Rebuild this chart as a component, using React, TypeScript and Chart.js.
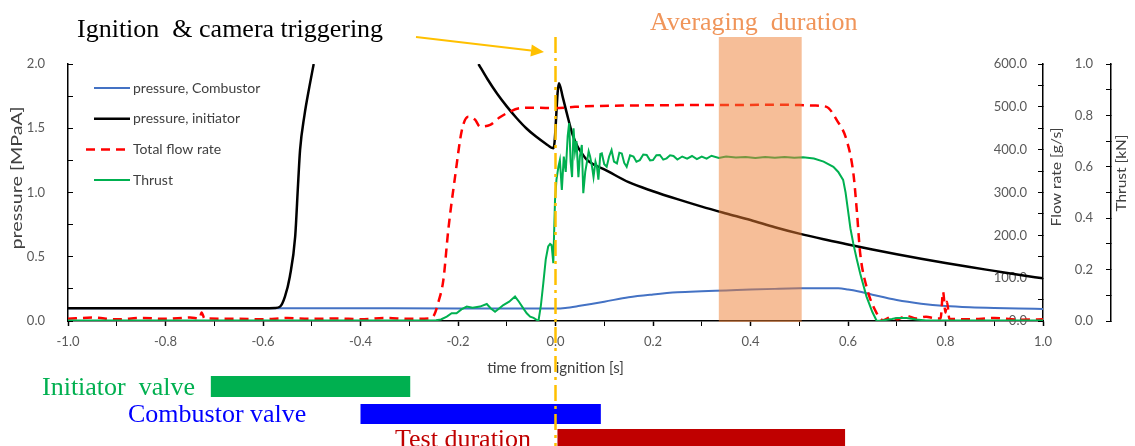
import React, { useEffect, useRef } from 'react';
import { Chart, registerables } from 'chart.js';

Chart.register(...registerables);

// ---------------- data ----------------
const seriesLabels = ['pressure, Combustor', 'pressure, initiator', 'Total flow rate', 'Thrust'];

const combustorTime = [-1.0, -0.8, -0.6, -0.4, -0.2, -0.1, 0.0, 0.02, 0.05, 0.1, 0.15, 0.2, 0.25, 0.3, 0.35, 0.4, 0.45, 0.5, 0.55, 0.58, 0.6, 0.62, 0.65, 0.7, 0.75, 0.8, 0.85, 0.9, 0.95, 1.0];
const combustorPressure = [0.100, 0.100, 0.100, 0.099, 0.098, 0.097, 0.097, 0.101, 0.118, 0.150, 0.185, 0.207, 0.224, 0.232, 0.238, 0.245, 0.250, 0.254, 0.255, 0.254, 0.245, 0.232, 0.205, 0.163, 0.135, 0.117, 0.107, 0.101, 0.097, 0.094];

const initiatorTime = [-1.0, -0.8, -0.6, -0.575, -0.565, -0.555, -0.545, -0.534, -0.528, -0.524, -0.515, -0.505, -0.496, -0.49,
  -0.158, -0.14, -0.12, -0.1, -0.08, -0.06, -0.04, -0.02, -0.004,
  0.007, 0.015, 0.023, 0.035, 0.045, 0.055, 0.064, 0.08, 0.1, 0.15, 0.2, 0.25, 0.3, 0.35, 0.4, 0.45, 0.5, 0.55, 0.6, 0.65, 0.7, 0.75, 0.8, 0.85, 0.9, 0.95, 1.0];
// null = off the top of the 0-2 MPa scale
const initiatorPressure = [0.100, 0.100, 0.100, 0.102, 0.112, 0.19, 0.345, 0.656, 1.07, 1.33, 1.6, 1.82, 2.0, null,
  2.0, 1.885, 1.77, 1.67, 1.58, 1.5, 1.435, 1.38, 1.344,
  1.85, 1.74, 1.62, 1.45, 1.36, 1.3, 1.255, 1.215, 1.18, 1.08, 1.01, 0.948, 0.89, 0.837, 0.786, 0.73, 0.68, 0.636, 0.596, 0.557, 0.52, 0.485, 0.452, 0.42, 0.39, 0.36, 0.332];

const flowTime = [-1.0, -0.95, -0.9, -0.85, -0.8, -0.75, -0.73, -0.726, -0.72, -0.65, -0.6, -0.55, -0.5, -0.45, -0.4, -0.35, -0.3, -0.26, -0.25, -0.24, -0.23, -0.22, -0.206, -0.192, -0.179, -0.165, -0.155, -0.134, -0.115, -0.1, -0.073, -0.04, 0.0, 0.04, 0.085, 0.15, 0.255, 0.35, 0.45, 0.5, 0.53, 0.556, 0.577, 0.597, 0.611, 0.618, 0.625, 0.638, 0.659, 0.672, 0.69, 0.70, 0.72, 0.74, 0.76, 0.78, 0.79, 0.795, 0.8, 0.803, 0.808, 0.85, 0.9, 0.95, 1.0];
const flowRate = [5, 8, 4, 7, 5, 8, 6, 20, 6, 5, 4, 7, 5, 6, 4, 7, 5, 6, 12, 45, 96, 212, 337, 446, 477, 470, 454, 458, 475, 485, 497, 498, 497, 500, 502, 503, 504, 504, 505, 504, 503, 500, 469, 423, 345, 259, 158, 80, 18, 2, 10, 4, 12, 6, 10, 6, 6, 68, 20, 45, 5, 4, 7, 3, 4];

const thrustTime = [-1.0, -0.6, -0.3, -0.245, -0.235, -0.223, -0.213, -0.203, -0.193, -0.182,
  -0.17, -0.155, -0.141, -0.133, -0.124, -0.115, -0.107, -0.095, -0.083, -0.075,
  -0.066, -0.059, -0.052, -0.045, -0.035, -0.03, -0.025, -0.02, -0.015, -0.011,
  -0.008, -0.0045, -0.001, 0.002, 0.006, 0.009, 0.013, 0.017, 0.021, 0.025,
  0.028, 0.031, 0.034, 0.037, 0.040, 0.043, 0.047, 0.050, 0.054, 0.057,
  0.061, 0.064, 0.068, 0.071, 0.075, 0.078, 0.082, 0.085, 0.088, 0.092,
  0.095, 0.1, 0.105, 0.11, 0.115, 0.12, 0.126, 0.131, 0.136, 0.141,
  0.146, 0.153, 0.16, 0.166, 0.173, 0.18, 0.187, 0.194, 0.2, 0.207,
  0.214, 0.221, 0.228, 0.235, 0.242, 0.25, 0.26, 0.27, 0.28, 0.29,
  0.3, 0.31, 0.32, 0.335, 0.35, 0.37, 0.39, 0.41, 0.43, 0.45,
  0.47, 0.49, 0.508, 0.53, 0.55, 0.57, 0.58, 0.59, 0.595, 0.6,
  0.605, 0.611, 0.618, 0.625, 0.638, 0.65, 0.659, 0.67, 0.69, 0.7,
  0.72, 0.74, 0.76, 0.85, 1.0];
const thrustValue = [0.002, 0.002, 0.002, 0.003, 0.006, 0.017, 0.03, 0.03, 0.045, 0.056,
  0.052, 0.056, 0.066, 0.05, 0.036, 0.05, 0.062, 0.075, 0.095, 0.075,
  0.049, 0.03, 0.017, 0.012, 0.0, 0.06, 0.147, 0.24, 0.29, 0.3,
  0.296, 0.225, 0.47, 0.55, 0.6, 0.626, 0.51, 0.64, 0.58, 0.72,
  0.77, 0.62, 0.56, 0.75, 0.66, 0.70, 0.56, 0.64, 0.685, 0.497,
  0.58, 0.613, 0.66, 0.64, 0.60, 0.56, 0.62, 0.60, 0.55, 0.65,
  0.652, 0.61, 0.60, 0.64, 0.665, 0.62, 0.613, 0.655, 0.652, 0.615,
  0.60, 0.645, 0.64, 0.62, 0.626, 0.648, 0.646, 0.625, 0.626, 0.645,
  0.646, 0.628, 0.633, 0.645, 0.642, 0.628, 0.64, 0.632, 0.642, 0.63,
  0.64, 0.632, 0.643, 0.634, 0.64, 0.636, 0.638, 0.634, 0.638, 0.635,
  0.638, 0.635, 0.637, 0.632, 0.62, 0.60, 0.58, 0.549, 0.5, 0.43,
  0.36, 0.30, 0.24, 0.185, 0.095, 0.035, 0.0, 0.002, 0.008, 0.012,
  0.012, 0.006, 0.002, 0.002, 0.002];

// annotations (in time units)
const ignitionTime = 0.0;
const averagingWindow = [0.335, 0.505];
const phaseLabels = ['Initiator  valve', 'Combustor valve', 'Test duration'];
const phaseStart = [-0.707, -0.40, 0.004];
const phaseEnd = [-0.298, 0.093, 0.594];

// ---------------- styles ----------------
const SANS = 'Lato, "Open Sans", sans-serif';
const SERIF = '"Liberation Serif", "Times New Roman", serif';
const seriesColors = ['#4472C4', '#000000', '#FF0000', '#00B050'];
const phaseColors = ['#00B050', '#0000FF', '#C00000'];
const phaseTextColors = ['#00B050', '#0000FF', '#C00000'];
const phaseRows = [
  { top: 376, height: 21, textX: 42, baseline: 395 },
  { top: 404, height: 20, textX: 128, baseline: 422 },
  { top: 429, height: 20, textX: 395, baseline: 447 },
];

const pts = (xs: number[], ys: (number | null)[]) => xs.map((x, i) => ({ x, y: ys[i] }));
const fmt1 = (v: number) => (Math.abs(v) < 1e-9 ? 0 : v).toFixed(1);

function drawVText(ctx: CanvasRenderingContext2D, text: string, cx: number, cy: number, len: number, size: number, color: string) {
  ctx.save();
  ctx.font = `${size}px ${SANS}`;
  const w = ctx.measureText(text).width;
  ctx.translate(cx, cy);
  ctx.rotate(-Math.PI / 2);
  ctx.scale(len / w, 1);
  ctx.fillStyle = color;
  ctx.textAlign = 'center';
  ctx.textBaseline = 'middle';
  ctx.fillText(text, 0, 0);
  ctx.restore();
}

const overlayPlugin = {
  id: 'overlay',
  afterDatasetsDraw(chart: any) {
    const { ctx, chartArea, scales } = chart;
    const x0 = scales.x.getPixelForValue(averagingWindow[0]);
    const x1 = scales.x.getPixelForValue(averagingWindow[1]);
    ctx.save();
    ctx.fillStyle = 'rgba(237,125,49,0.5)';
    ctx.fillRect(x0, 37, x1 - x0, chartArea.bottom + 1 - 37);
    ctx.restore();
  },
  afterDraw(chart: any) {
    const { ctx, scales } = chart;
    const xs = scales.x;

    // axis titles
    drawVText(ctx, 'pressure [MPaA]', 17, 178, 143, 15, '#404040');
    drawVText(ctx, 'Flow rate [g/s]', 1057, 177, 99, 13, '#404040');
    drawVText(ctx, 'Thrust [kN]', 1122, 173, 77, 13, '#404040');

    // legend
    ctx.save();
    chart.data.datasets.forEach((ds: any, i: number) => {
      const y = 88 + i * 30.7;
      ctx.beginPath();
      ctx.strokeStyle = ds.borderColor;
      ctx.lineWidth = ds.borderWidth;
      ctx.setLineDash(ds.borderDash || []);
      ctx.moveTo(ds.borderDash ? 86 : 94, y);
      ctx.lineTo(130, y);
      ctx.stroke();
      ctx.setLineDash([]);
      ctx.fillStyle = '#404040';
      ctx.font = `14px ${SANS}`;
      ctx.textAlign = 'left';
      ctx.textBaseline = 'middle';
      ctx.fillText(ds.label, 133, y);
    });
    ctx.restore();

    // top annotations
    ctx.save();
    ctx.font = `26px ${SERIF}`;
    ctx.textBaseline = 'alphabetic';
    ctx.textAlign = 'left';
    ctx.fillStyle = '#000000';
    ctx.fillText('Ignition  & camera triggering', 77, 37);
    ctx.fillStyle = '#F0955A';
    ctx.fillText('Averaging  duration', 650, 30);
    // arrow
    const ax0 = 416, ay0 = 37, ax1 = 544, ay1 = 52;
    const ang = Math.atan2(ay1 - ay0, ax1 - ax0);
    const hl = 13, hw = 6;
    const bx = ax1 - hl * Math.cos(ang), by = ay1 - hl * Math.sin(ang);
    ctx.strokeStyle = '#FFC000';
    ctx.fillStyle = '#FFC000';
    ctx.lineWidth = 2;
    ctx.beginPath();
    ctx.moveTo(ax0, ay0);
    ctx.lineTo(bx, by);
    ctx.stroke();
    ctx.beginPath();
    ctx.moveTo(ax1, ay1);
    ctx.lineTo(bx + hw * Math.sin(ang), by - hw * Math.cos(ang));
    ctx.lineTo(bx - hw * Math.sin(ang), by + hw * Math.cos(ang));
    ctx.closePath();
    ctx.fill();
    ctx.restore();

    // phase bars
    ctx.save();
    phaseLabels.forEach((lab, i) => {
      const r = phaseRows[i];
      const p0 = xs.getPixelForValue(phaseStart[i]);
      const p1 = xs.getPixelForValue(phaseEnd[i]);
      ctx.fillStyle = phaseColors[i];
      ctx.fillRect(p0, r.top, p1 - p0, r.height);
      ctx.fillStyle = phaseTextColors[i];
      ctx.font = `26px ${SERIF}`;
      ctx.textAlign = 'left';
      ctx.textBaseline = 'alphabetic';
      ctx.fillText(lab, r.textX, r.baseline);
    });
    ctx.restore();

    // ignition dash-dot line
    const ix = xs.getPixelForValue(ignitionTime);
    ctx.save();
    ctx.strokeStyle = '#FFC000';
    ctx.lineWidth = 2.5;
    ctx.setLineDash([16, 5, 3, 5]);
    ctx.beginPath();
    ctx.moveTo(ix, 37);
    ctx.lineTo(ix, 446);
    ctx.stroke();
    ctx.restore();
  },
};

const tickFont = { family: SANS, size: 13 };
const axisCommon = {
  border: { display: true, color: '#000000', width: 1.5 },
};

export default function App() {
  const ref = useRef<HTMLCanvasElement>(null);
  useEffect(() => {
    const datasets = [
      { label: seriesLabels[0], data: pts(combustorTime, combustorPressure), yAxisID: 'y', borderColor: seriesColors[0], borderWidth: 2, cubicInterpolationMode: 'monotone', order: 3 },
      { label: seriesLabels[1], data: pts(initiatorTime, initiatorPressure), yAxisID: 'y', borderColor: seriesColors[1], borderWidth: 2.5, cubicInterpolationMode: 'monotone', order: 2 },
      { label: seriesLabels[2], data: pts(flowTime, flowRate), yAxisID: 'flow', borderColor: seriesColors[2], borderWidth: 2.5, borderDash: [9, 6], cubicInterpolationMode: 'monotone', order: 1 },
      { label: seriesLabels[3], data: pts(thrustTime, thrustValue), yAxisID: 'thrust', borderColor: seriesColors[3], borderWidth: 2, tension: 0, order: 0 },
    ];
    const chart = new Chart(ref.current as HTMLCanvasElement, {
      type: 'line',
      data: { datasets } as any,
      options: {
        responsive: false,
        animation: false,
        spanGaps: false,
        elements: { point: { radius: 0 }, line: { fill: false } },
        layout: { padding: { left: 0, right: 0, top: 64, bottom: 65 } },
        plugins: { legend: { display: false }, tooltip: { enabled: false } },
        scales: {
          x: {
            type: 'linear', position: 'bottom', min: -1, max: 1,
            afterFit: (s: any) => { s.height = 60; },
            ticks: {
              stepSize: 0.1, autoSkip: false, maxRotation: 0, padding: 8, color: '#595959', font: tickFont,
              callback: (v: any) => (Math.round(v * 10) % 2 === 0 ? fmt1(v) : ''),
            },
            grid: { drawOnChartArea: false, tickLength: 5, color: '#000000', tickWidth: (c: any) => (Math.round(c.tick.value * 10) % 2 === 0 ? 1.5 : 1) },
            title: { display: true, text: 'time from ignition [s]', color: '#404040', font: { family: SANS, size: 15 }, padding: { top: 0, bottom: 4 } },
            ...axisCommon,
          },
          y: {
            type: 'linear', position: 'left', min: 0, max: 2,
            afterFit: (s: any) => { s.width = 68; },
            ticks: {
              stepSize: 0.25, autoSkip: false, padding: 28, color: '#595959', font: tickFont,
              callback: (v: any) => (Math.round(v * 4) % 2 === 0 ? fmt1(v) : ''),
            },
            grid: { drawOnChartArea: false, tickLength: -5, color: '#000000' },
            ...axisCommon,
          },
          flow: {
            type: 'linear', position: 'right', min: 0, max: 600,
            afterFit: (s: any) => { s.width = 68; },
            ticks: {
              stepSize: 50, autoSkip: false, mirror: true, padding: -16, color: '#595959', font: tickFont,
              callback: (v: any) => (Math.round(v) % 100 === 0 ? fmt1(v) : ''),
            },
            grid: { drawOnChartArea: false, tickLength: -5, color: '#000000' },
            ...axisCommon,
          },
          thrust: {
            type: 'linear', position: 'right', min: 0, max: 1,
            afterFit: (s: any) => { s.width = 24; },
            ticks: {
              stepSize: 0.1, autoSkip: false, mirror: true, padding: -18, color: '#595959', font: tickFont,
              callback: (v: any) => (Math.round(v * 10) % 2 === 0 ? fmt1(v) : ''),
            },
            grid: { drawOnChartArea: false, tickLength: -5, color: '#000000' },
            ...axisCommon,
          },
        },
      } as any,
      plugins: [overlayPlugin],
    });
    return () => chart.destroy();
  }, []);
  return (
    <div style={{ position: 'absolute', left: 0, top: 0, width: 1135, height: 446, background: '#ffffff' }}>
      <canvas ref={ref} width={1135} height={446} style={{ display: 'block' }} />
    </div>
  );
}
